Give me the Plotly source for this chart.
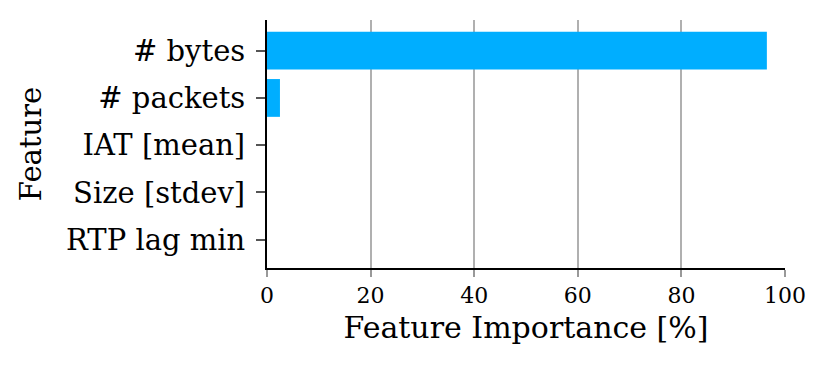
import plotly.graph_objects as go

features = ["# bytes", "# packets", "IAT [mean]", "Size [stdev]", "RTP lag min"]
importance = [96.5, 2.5, 0.0, 0.0, 0.0]
x_ticks = [0, 20, 40, 60, 80, 100]

fig = go.Figure(go.Bar(
    x=importance, y=features, orientation="h",
    marker=dict(color="#00AEFF", line=dict(width=0)),
    width=0.8,
))

font = "DejaVu Serif"
fig.update_layout(
    width=822, height=367,
    margin=dict(l=259, r=45, t=12, b=107),
    plot_bgcolor="white", paper_bgcolor="white",
    showlegend=False,
    font=dict(family=font, color="black"),
)
fig.update_xaxes(
    range=[0, 100], tickvals=x_ticks,
    showgrid=True, gridcolor="#b0b0b0", gridwidth=2,
    showline=True, linecolor="black", linewidth=2,
    ticks="outside", ticklen=7, tickcolor="#999999", tickwidth=1.5,
    tickfont=dict(size=22, family=font),
    title=dict(text="Feature Importance [%]", font=dict(size=30, family=font), standoff=10),
    zeroline=False,
)
fig.update_yaxes(
    categoryorder="array", categoryarray=features, autorange=False,
    range=[4.6, -0.65],
    showgrid=False,
    showline=True, linecolor="black", linewidth=2,
    ticks="outside", ticklen=9, tickcolor="#555555", tickwidth=1.5,
    ticklabelstandoff=5,
    tickfont=dict(size=29, family=font),
    title=dict(text="Feature", font=dict(size=29, family=font), standoff=16),
)
fig.write_html("out.html")
